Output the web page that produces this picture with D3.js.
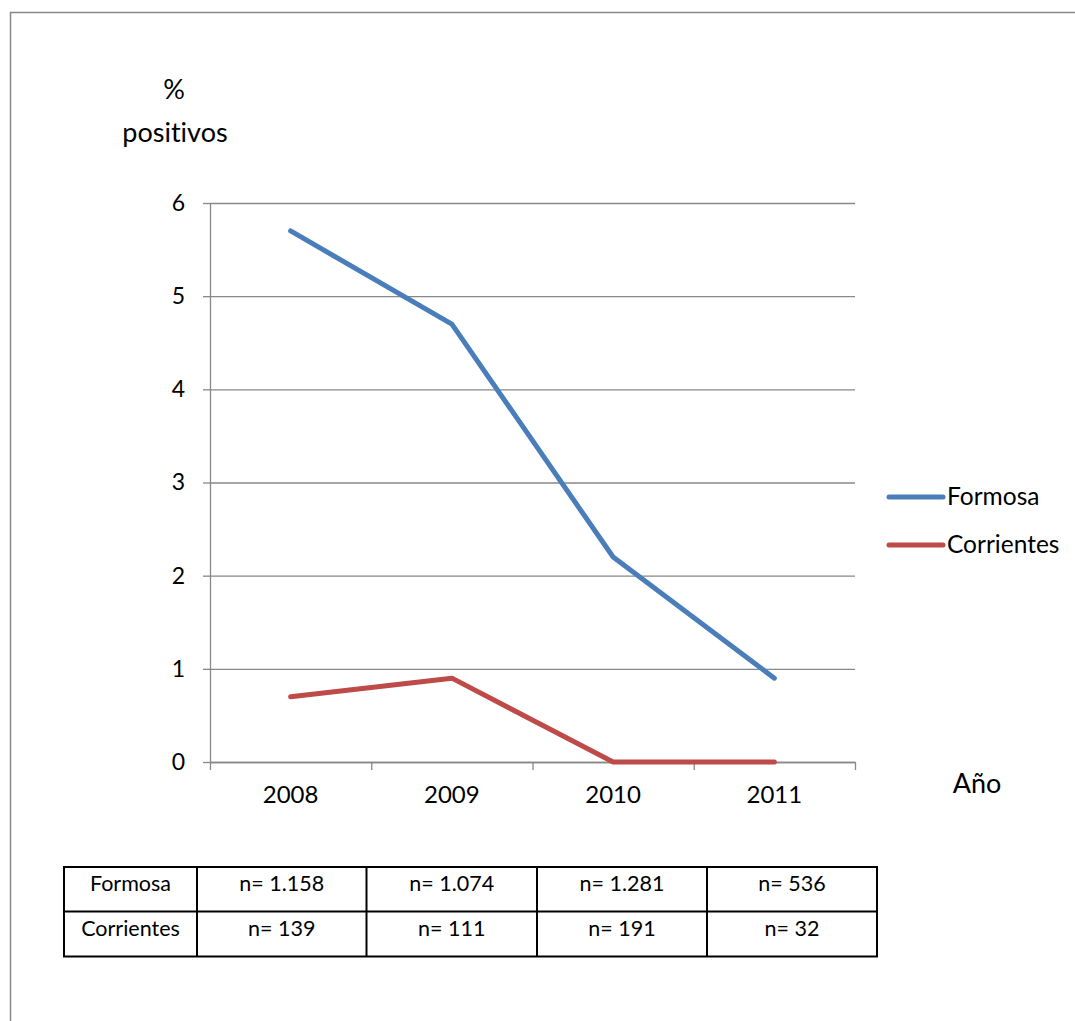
<!DOCTYPE html>
<html>
<head>
<meta charset="utf-8">
<script src="https://cdn.jsdelivr.net/npm/d3@7/dist/d3.min.js"></script>
<style>
  html, body { margin: 0; padding: 0; background: #fff; }
  svg { display: block; font-family: Lato, "Open Sans", sans-serif; }
  svg text { font-variant-ligatures: none; font-feature-settings: "liga" 0, "clig" 0; }
</style>
</head>
<body>
<svg id="chart" width="1075" height="1021"></svg>
<script>
// Years on the category axis
const years = ["2008", "2009", "2010", "2011"];
// Percentage of positive samples per province
const formosa = [5.7, 4.7, 2.2, 0.9];
const corrientes = [0.7, 0.9, 0, 0];
const seriesNames = ["Formosa", "Corrientes"];
const seriesColors = ["#4A7EBB", "#BE4B48"];
// Sample sizes shown in the table under the chart
const formosaN = ["n= 1.158", "n= 1.074", "n= 1.281", "n= 536"];
const corrientesN = ["n= 139", "n= 111", "n= 191", "n= 32"];
const yTicks = [0, 1, 2, 3, 4, 5, 6];

const svg = d3.select("#chart");

// Outer frame (top and left edges)
svg.append("path")
  .attr("d", "M10.5,1021 L10.5,12.5 L1075,12.5")
  .attr("fill", "none").attr("stroke", "#888").attr("stroke-width", 1.5);

const plot = { left: 210, right: 855, top: 203, bottom: 762 };

const x = d3.scaleBand().domain(years).range([plot.left, plot.right]).padding(0);
const xEdge = d3.scaleLinear().domain([0, years.length]).range([plot.left, plot.right]);
const y = d3.scaleLinear().domain([0, 6]).range([plot.bottom, plot.top]);

// Horizontal gridlines
const grid = svg.append("g").attr("transform", `translate(${plot.left},0)`)
  .call(d3.axisLeft(y).tickValues(yTicks).tickSize(-(plot.right - plot.left)).tickFormat(""));
grid.select(".domain").remove();
grid.selectAll("line").attr("stroke", "#888").attr("stroke-width", 1.3);

// Y axis with outward ticks
const yAx = svg.append("g").attr("transform", `translate(${plot.left},0)`)
  .call(d3.axisLeft(y).tickValues(yTicks).tickFormat(d3.format("d"))
    .tickSize(7).tickSizeOuter(0).tickPadding(18));
yAx.select(".domain").attr("stroke", "#888").attr("stroke-width", 1.3);
yAx.selectAll("line").attr("stroke", "#888").attr("stroke-width", 1.3);
yAx.selectAll("text").attr("font-size", 23).attr("fill", "#000")
  .attr("font-family", "Lato, sans-serif");

// X axis: tick marks between categories
const xTicks = svg.append("g").attr("transform", `translate(0,${plot.bottom})`)
  .call(d3.axisBottom(xEdge).tickValues(d3.range(years.length + 1)).tickSize(8).tickFormat("").tickSizeOuter(0));
xTicks.select(".domain").attr("stroke", "#888").attr("stroke-width", 1.3);
xTicks.selectAll("line").attr("stroke", "#888").attr("stroke-width", 1.3);

// X axis labels centred in each category
const xLab = svg.append("g").attr("transform", `translate(0,${plot.bottom})`)
  .call(d3.axisBottom(x).tickSize(0).tickPadding(24));
xLab.select(".domain").remove();
xLab.selectAll("text").attr("font-size", 24).attr("fill", "#000")
  .attr("font-family", "Lato, sans-serif");

// Series lines
const line = d3.line()
  .x((d, i) => x(years[i]) + x.bandwidth() / 2)
  .y(d => y(d));

[formosa, corrientes].forEach((vals, k) => {
  svg.append("path")
    .datum(vals)
    .attr("d", line)
    .attr("fill", "none")
    .attr("stroke", seriesColors[k])
    .attr("stroke-width", 5)
    .attr("stroke-linejoin", "round")
    .attr("stroke-linecap", "round");
});

// Axis titles
svg.append("text").attr("x", 174).attr("y", 99).attr("text-anchor", "middle")
  .attr("font-size", 27).text("%");
svg.append("text").attr("x", 175).attr("y", 142).attr("text-anchor", "middle")
  .attr("font-size", 27).text("positivos");
svg.append("text").attr("x", 977).attr("y", 793).attr("text-anchor", "middle")
  .attr("font-size", 27).text("Año");

// Legend
const legend = svg.append("g");
seriesNames.forEach((name, k) => {
  const ly = 497 + k * 48;
  legend.append("line")
    .attr("x1", 889).attr("x2", 943).attr("y1", ly).attr("y2", ly)
    .attr("stroke", seriesColors[k]).attr("stroke-width", 5).attr("stroke-linecap", "round");
  legend.append("text").attr("x", 947).attr("y", ly + 8)
    .attr("font-size", 24.5).text(name);
});

// Sample size table
const colEdges = [64, 197, 366.5, 537, 707, 877];
const rowEdges = [867, 911.5, 956.5];
const rows = [["Formosa", ...formosaN], ["Corrientes", ...corrientesN]];
const table = svg.append("g");
rows.forEach((row, r) => {
  row.forEach((cell, c) => {
    table.append("text")
      .attr("x", (colEdges[c] + colEdges[c + 1]) / 2)
      .attr("y", rowEdges[r] + 24)
      .attr("text-anchor", "middle")
      .attr("font-size", 21.5)
      .text(cell);
  });
});
rowEdges.forEach(ry => {
  table.append("line").attr("x1", colEdges[0] - 1).attr("x2", colEdges[colEdges.length - 1] + 1)
    .attr("y1", ry).attr("y2", ry).attr("stroke", "#000").attr("stroke-width", 2);
});
colEdges.forEach(cx => {
  table.append("line").attr("x1", cx).attr("x2", cx)
    .attr("y1", rowEdges[0]).attr("y2", rowEdges[rowEdges.length - 1])
    .attr("stroke", "#000").attr("stroke-width", 2);
});
</script>
</body>
</html>
